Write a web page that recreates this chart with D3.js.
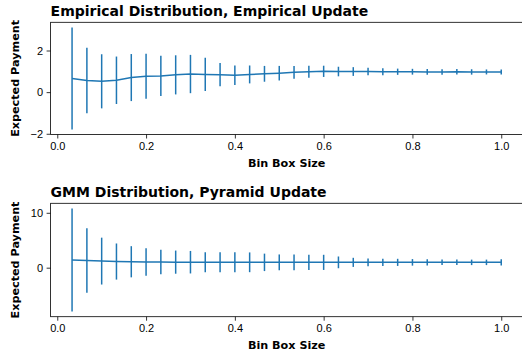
<!DOCTYPE html>
<html>
<head>
<meta charset="utf-8">
<script src="https://cdn.jsdelivr.net/npm/d3@7"></script>
<style>
  body { margin: 0; background: #fff; }
  svg { display: block; font-family: "DejaVu Sans", sans-serif; }
  .title { font-weight: bold; font-size: 14px; }
  .label { font-weight: bold; font-size: 11.2px; }
  .tick text { font-size: 11px; fill: #000; }
</style>
</head>
<body>
<script>
(function () {
  "use strict";

  var binSizes = [0.0333, 0.0667, 0.1, 0.1333, 0.1667, 0.2, 0.2333, 0.2667, 0.3, 0.3333,
                  0.3667, 0.4, 0.4333, 0.4667, 0.5, 0.5333, 0.5667, 0.6, 0.6333, 0.6667,
                  0.7, 0.7333, 0.7667, 0.8, 0.8333, 0.8667, 0.9, 0.9333, 0.9667, 1.0];

  var empMean = [0.66, 0.56, 0.52, 0.57, 0.70, 0.76, 0.78, 0.83, 0.87, 0.85,
                 0.84, 0.81, 0.85, 0.88, 0.91, 0.95, 0.98, 1.00, 0.99, 0.99,
                 0.99, 0.98, 0.98, 0.98, 0.97, 0.97, 0.98, 0.97, 0.97, 0.97];
  var empErr = [2.45, 1.57, 1.30, 1.14, 1.13, 1.08, 0.97, 0.94, 0.92, 0.80,
                0.56, 0.47, 0.43, 0.38, 0.35, 0.31, 0.29, 0.27, 0.23, 0.21,
                0.18, 0.17, 0.15, 0.14, 0.14, 0.13, 0.13, 0.13, 0.12, 0.12];

  var gmmMean = [1.40, 1.32, 1.20, 1.12, 1.08, 1.05, 1.02, 1.01, 1.00, 0.98,
                 0.98, 0.98, 0.98, 0.97, 0.97, 0.97, 0.97, 0.97, 0.97, 0.97,
                 0.97, 0.97, 0.97, 0.97, 0.97, 0.97, 0.97, 0.97, 0.97, 0.97];
  var gmmErr = [9.39, 5.88, 4.27, 3.29, 2.84, 2.50, 2.23, 2.11, 2.05, 1.83,
                1.83, 1.83, 1.80, 1.59, 1.44, 1.44, 1.38, 1.38, 1.07, 0.83,
                0.70, 0.65, 0.65, 0.60, 0.55, 0.50, 0.50, 0.50, 0.50, 0.55];

  var xTicks = [0.0, 0.2, 0.4, 0.6, 0.8, 1.0];
  var empYTicks = [-2, 0, 2];
  var gmmYTicks = [0, 10];

  var panels = [
    {title: 'Empirical Distribution, Empirical Update', mean: empMean, err: empErr, yTicks: empYTicks, top: 22.3, bottom: 134.5},
    {title: 'GMM Distribution, Pyramid Update', mean: gmmMean, err: gmmErr, yTicks: gmmYTicks, top: 203.3, bottom: 316.7}
  ];

  var outerWidth = 522,
      outerHeight = 358,
      left = 50.6,
      right = 522.7,
      color = '#1f77b4';

  var svg = d3.select('body').append('svg')
      .attr('width', outerWidth)
      .attr('height', outerHeight);

  // matplotlib style 5% margins
  function padded(lo, hi) {
    var m = (hi - lo) * 0.05;
    return [lo - m, hi + m];
  }

  var xDom = padded(d3.min(binSizes), d3.max(binSizes));
  var xScale = d3.scaleLinear().domain(xDom).range([left, right]);

  panels.forEach(function (p) {
    var rows = binSizes.map(function (b, i) {
      return {x: b, y: p.mean[i], lo: p.mean[i] - p.err[i], hi: p.mean[i] + p.err[i]};
    });
    var yScale = d3.scaleLinear()
        .domain(padded(d3.min(rows, function (d) { return d.lo; }), d3.max(rows, function (d) { return d.hi; })))
        .range([p.bottom, p.top]);

    var g = svg.append('g');

    g.append('text')
        .attr('class', 'title')
        .attr('x', left)
        .attr('y', p.top - 6.6)
        .text(p.title);

    // error bars
    g.selectAll('.bar')
        .data(rows)
        .enter()
      .append('line')
        .attr('class', 'bar')
        .attr('x1', function (d) { return xScale(d.x); })
        .attr('x2', function (d) { return xScale(d.x); })
        .attr('y1', function (d) { return yScale(d.lo); })
        .attr('y2', function (d) { return yScale(d.hi); })
        .style('stroke', color)
        .style('stroke-width', 1.5);

    var line = d3.line()
        .x(function (d) { return xScale(d.x); })
        .y(function (d) { return yScale(d.y); });

    g.append('path')
        .datum(rows)
        .attr('d', line)
        .style('fill', 'none')
        .style('stroke', color)
        .style('stroke-width', 1.5);

    var xAxis = d3.axisBottom(xScale)
        .tickValues(xTicks)
        .tickFormat(d3.format('.1f'))
        .tickSizeInner(4)
        .tickSizeOuter(0)
        .tickPadding(3.5);
    var yAxis = d3.axisLeft(yScale)
        .tickValues(p.yTicks)
        .tickFormat(function (d) { return d < 0 ? '\u2212' + Math.abs(d) : d; })
        .tickSizeInner(4)
        .tickSizeOuter(0)
        .tickPadding(3.5);

    g.append('g')
        .attr('transform', 'translate(0,' + p.bottom + ')')
        .call(xAxis)
        .call(function (a) { a.select('.domain').remove(); });
    g.append('g')
        .attr('transform', 'translate(' + left + ',0)')
        .call(yAxis)
        .call(function (a) { a.select('.domain').remove(); });

    g.selectAll('.tick line').style('stroke', '#000').style('stroke-width', 0.8);

    // frame
    g.append('rect')
        .attr('x', left)
        .attr('y', p.top)
        .attr('width', right - left)
        .attr('height', p.bottom - p.top)
        .style('fill', 'none')
        .style('stroke', '#000')
        .style('stroke-width', 0.8);

    g.append('text')
        .attr('class', 'label')
        .attr('text-anchor', 'middle')
        .attr('x', (left + right) / 2)
        .attr('y', p.bottom + 32.5)
        .text('Bin Box Size');

    g.append('text')
        .attr('class', 'label')
        .attr('text-anchor', 'middle')
        .attr('transform', 'translate(18.5,' + (p.top + p.bottom) / 2 + ') rotate(-90)')
        .text('Expected Payment');
  });
}());
</script>
</body>
</html>
